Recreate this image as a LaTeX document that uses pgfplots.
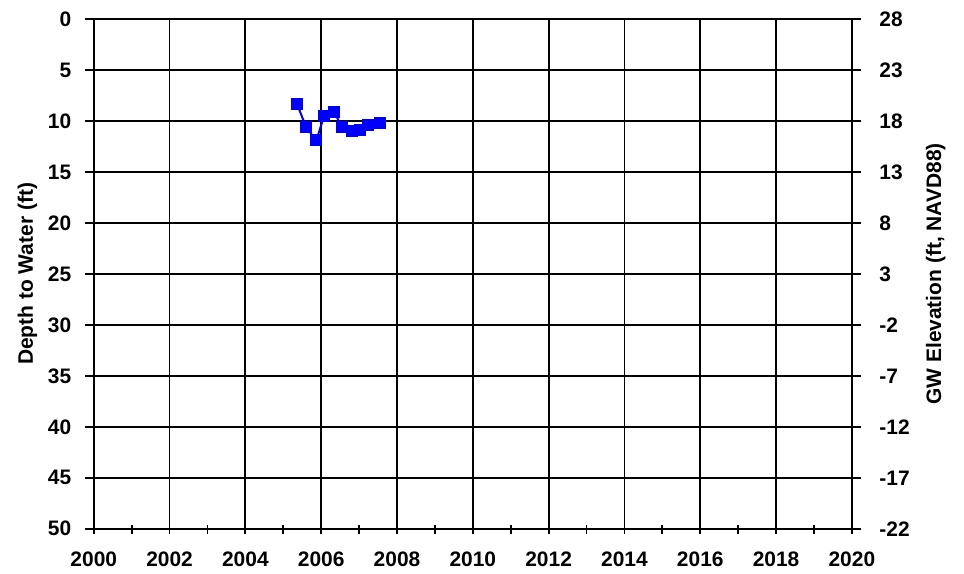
\documentclass[border=0pt]{standalone}
\usepackage{fontspec}
\setmainfont{Liberation Sans}
\usepackage{pgfplots}
\pgfplotsset{compat=1.18}

\begin{document}
\begin{tikzpicture}
\pgfplotsset{
  every axis/.append style={
    scale only axis, width=380pt, height=255.5pt,
    font=\fontsize{10.5}{12}\selectfont\bfseries,
    /pgf/number format/assume math mode=true,
    /pgf/number format/1000 sep={},
    xmin=2000, xmax=2020,
    line width=0.9pt,
  },
}
\begin{axis}[
    y dir=reverse,
    ymin=0, ymax=50,
    ytick={0,5,...,50},
    axis y line*=left,
    xtick={2000,2002,...,2020},
    minor xtick={2001,2003,...,2019},
    grid=major,
    major grid style={black, line width=0.9pt},
    ytick style={black, line width=0.9pt},
    xtick style={black, line width=0.9pt, yshift=2pt},
    tick align=outside,
    major tick length=4.5pt, minor tick length=4.5pt,
    xtick pos=bottom,
    yticklabel style={xshift=-3pt},
    xticklabel style={yshift=-3.5pt},
    ylabel={Depth to Water (ft)},
    ylabel style={yshift=-1.7pt},
]
\addplot[blue, line width=1pt, mark=square*, mark size=2.5pt, mark options={fill=blue}] coordinates {
  (2005.36, 8.3)
  (2005.60, 10.6)
  (2005.87, 11.9)
  (2006.08, 9.5)
  (2006.34, 9.1)
  (2006.55, 10.6)
  (2006.82, 11.0)
  (2007.03, 10.9)
  (2007.24, 10.4)
  (2007.55, 10.2)
};
\end{axis}
\begin{axis}[
    ymin=-22, ymax=28,
    ytick={-22,-17,-12,-7,-2,3,8,13,18,23,28},
    yticklabels={-22,-17,-12,-7,-2,3,8,13,18,23,28},
    axis y line*=right,
    axis x line=none,
    tick align=outside,
    ytick style={black, line width=0.9pt},
    major tick length=4.5pt,
    yticklabel style={xshift=5.5pt},
    ylabel={GW Elevation (ft, NAVD88)},
    ylabel style={yshift=-1pt},
]
\end{axis}
\coordinate (sw) at (current bounding box.south west);
\coordinate (ne) at (current bounding box.north east);
\path ([shift={(-5.5pt,0pt)}]sw) rectangle ([shift={(6pt,2.5pt)}]ne);
\end{tikzpicture}
\end{document}
